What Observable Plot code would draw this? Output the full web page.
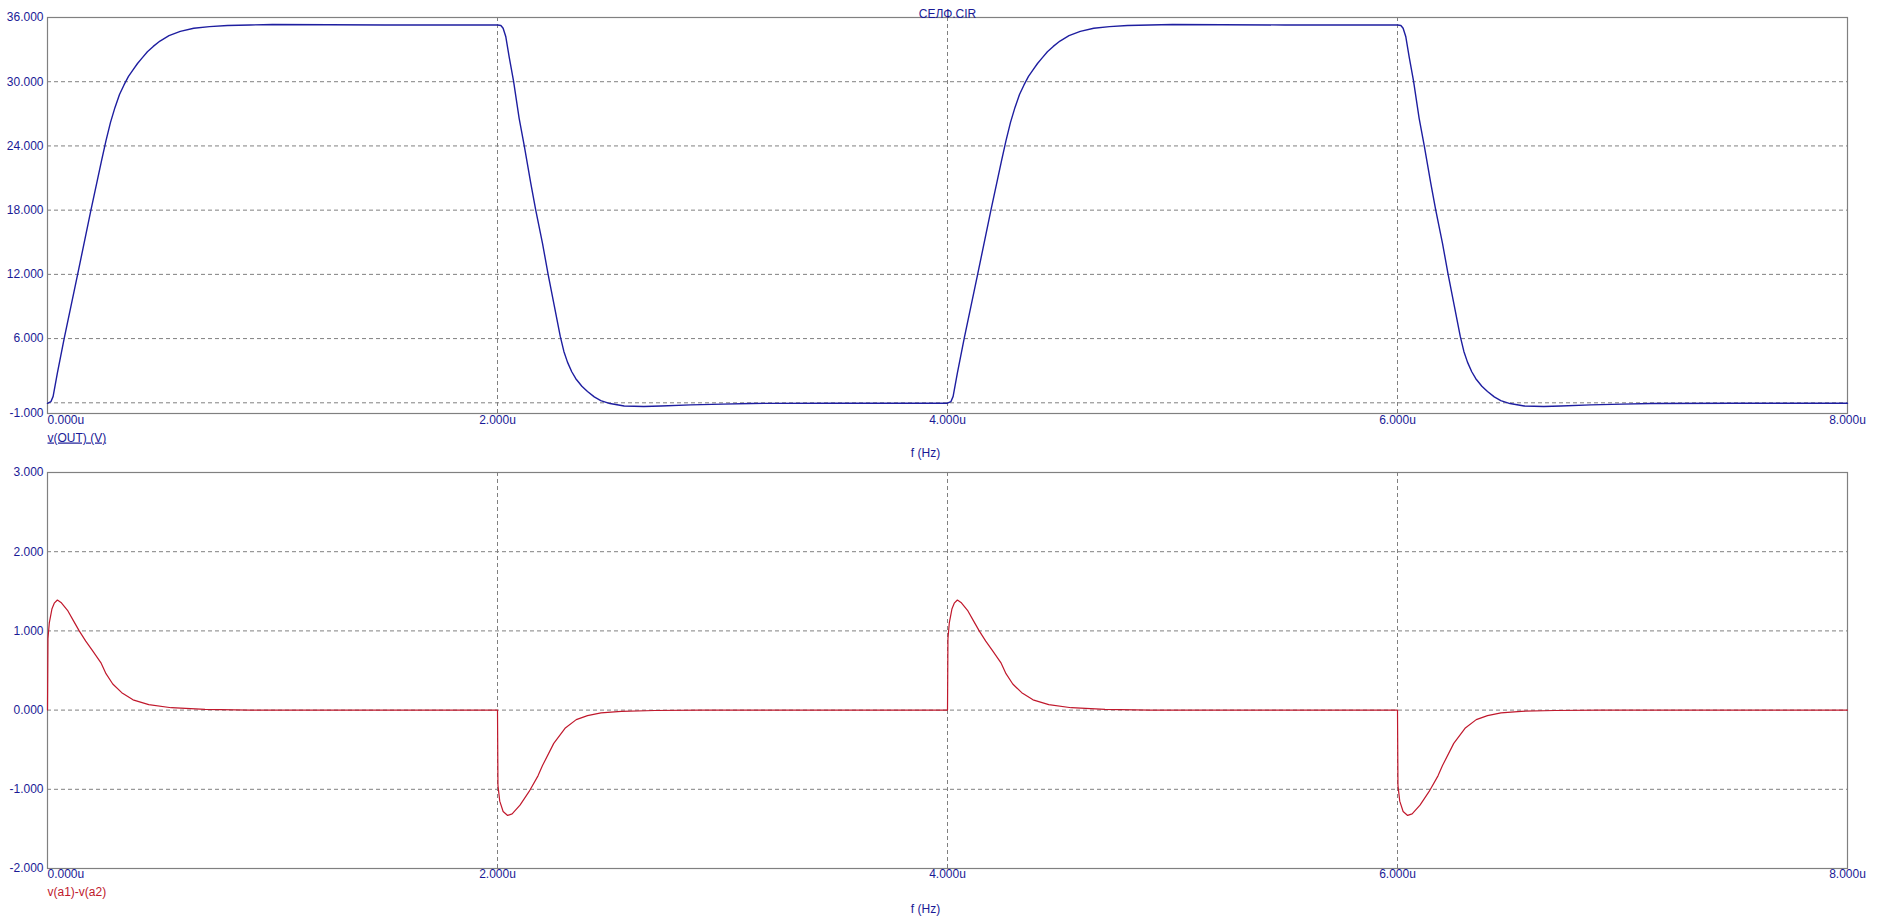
<!DOCTYPE html>
<html>
<head>
<meta charset="utf-8">
<script src="https://cdn.jsdelivr.net/npm/d3@7"></script>
<script src="https://cdn.jsdelivr.net/npm/@observablehq/plot@0.6"></script>
<style>
  html, body { margin: 0; padding: 0; background: #fff; }
  #chart svg { display: block; }
</style>
</head>
<body>
<div id="chart"></div>
<script>
// ---- Data (time in microseconds) ----
const title = "СЕЛФ.CIR";
const xTicks = [0, 2, 4, 6, 8];
const xGrid = [2, 4, 6];
const xLabel = "f (Hz)";

// Top panel: v(OUT) (V)
const outLabel = "v(OUT) (V)";
const outYTicks = [36, 30, 24, 18, 12, 6, -1];
const outYGrid = [30, 24, 18, 12, 6, 0];
const outT = [
  0.000, 0.015, 0.025, 0.044, 0.074, 0.133, 0.193, 0.240, 0.260, 0.280, 0.300, 0.320, 0.340, 0.360, 0.380, 0.400, 0.420, 0.444, 0.470, 0.500, 0.540, 0.590, 0.650, 0.720, 0.800, 0.900, 1.000, 1.500,
  2.000, 2.015, 2.025, 2.037, 2.052, 2.071, 2.096, 2.119, 2.148, 2.170, 2.200, 2.225, 2.252, 2.279, 2.295, 2.311, 2.330, 2.348, 2.375, 2.400, 2.430, 2.459, 2.500, 2.563, 2.650, 2.726, 2.859, 3.000, 3.126, 3.500,
  4.000, 4.015, 4.025, 4.044, 4.074, 4.133, 4.193, 4.240, 4.260, 4.280, 4.300, 4.320, 4.340, 4.360, 4.380, 4.400, 4.420, 4.444, 4.470, 4.500, 4.540, 4.590, 4.650, 4.720, 4.800, 4.900, 5.000, 5.500,
  6.000, 6.015, 6.025, 6.037, 6.052, 6.071, 6.096, 6.119, 6.148, 6.170, 6.200, 6.225, 6.252, 6.279, 6.295, 6.311, 6.330, 6.348, 6.375, 6.400, 6.430, 6.459, 6.500, 6.563, 6.650, 6.726, 6.859, 7.000, 7.126, 7.500, 8.000
];
const outV = [
  -0.05, 0.1, 0.6, 2.8, 6.0, 11.9, 18.0, 22.6, 24.5, 26.2, 27.6, 28.8, 29.7, 30.5, 31.1, 31.7, 32.2, 32.8, 33.3, 33.8, 34.3, 34.7, 35.0, 35.15, 35.25, 35.3, 35.35, 35.3,
  35.3, 35.25, 35.0, 34.2, 32.3, 30.1, 26.6, 24.0, 20.5, 18.0, 14.9, 12.0, 9.1, 6.2, 4.8, 3.8, 2.9, 2.25, 1.55, 1.05, 0.55, 0.2, -0.07, -0.3, -0.35, -0.3, -0.19, -0.12, -0.06, -0.04,
  -0.04, 0.1, 0.6, 2.8, 6.0, 11.9, 18.0, 22.6, 24.5, 26.2, 27.6, 28.8, 29.7, 30.5, 31.1, 31.7, 32.2, 32.8, 33.3, 33.8, 34.3, 34.7, 35.0, 35.15, 35.25, 35.3, 35.35, 35.3,
  35.3, 35.25, 35.0, 34.2, 32.3, 30.1, 26.6, 24.0, 20.5, 18.0, 14.9, 12.0, 9.1, 6.2, 4.8, 3.8, 2.9, 2.25, 1.55, 1.05, 0.55, 0.2, -0.07, -0.3, -0.35, -0.3, -0.19, -0.12, -0.06, -0.04, -0.04
];

// Bottom panel: v(a1)-v(a2)
const diffLabel = "v(a1)-v(a2)";
const diffYTicks = [3, 2, 1, 0, -1, -2];
const diffYGrid = [2, 1, 0, -1];
const diffT = [
  0.000, 0.002, 0.008, 0.020, 0.030, 0.044, 0.060, 0.089, 0.115, 0.141, 0.170, 0.200, 0.237, 0.260, 0.290, 0.330, 0.380, 0.450, 0.550, 0.700, 0.900,
  2.000, 2.002, 2.010, 2.025, 2.045, 2.065, 2.100, 2.140, 2.180, 2.200, 2.250, 2.300, 2.350, 2.400, 2.460, 2.550, 2.700, 2.900,
  4.000, 4.002, 4.008, 4.020, 4.030, 4.044, 4.060, 4.089, 4.115, 4.141, 4.170, 4.200, 4.237, 4.260, 4.290, 4.330, 4.380, 4.450, 4.550, 4.700, 4.900,
  6.000, 6.002, 6.010, 6.025, 6.045, 6.065, 6.100, 6.140, 6.180, 6.200, 6.250, 6.300, 6.350, 6.400, 6.460, 6.550, 6.700, 6.900, 8.000
];
const diffV = [
  0, 0.9, 1.1, 1.28, 1.35, 1.39, 1.36, 1.26, 1.13, 1.0, 0.87, 0.75, 0.6, 0.46, 0.33, 0.22, 0.13, 0.07, 0.03, 0.01, 0,
  0, -0.95, -1.15, -1.28, -1.33, -1.31, -1.2, -1.03, -0.83, -0.7, -0.42, -0.23, -0.12, -0.07, -0.035, -0.015, -0.005, 0,
  0, 0.9, 1.1, 1.28, 1.35, 1.39, 1.36, 1.26, 1.13, 1.0, 0.87, 0.75, 0.6, 0.46, 0.33, 0.22, 0.13, 0.07, 0.03, 0.01, 0,
  0, -0.95, -1.15, -1.28, -1.33, -1.31, -1.2, -1.03, -0.83, -0.7, -0.42, -0.23, -0.12, -0.07, -0.035, -0.015, -0.005, 0, 0
];

// ---- Styling ----
const textColor = "#1a1a96";
const gridColor = "#808080";
const blue = "#1e1ea0";
const red = "#c0182c";
const fmt3 = d => d.toFixed(3);
const fmtX = d => d.toFixed(3) + "u";

function panel({height, marginTop, marginBottom, yDomain, yTicks, yGrid, t, v, lineColor, lineWidth, label, labelColor, titleText, dyTick, dyLabel, dyX}) {
  const data = t.map((x, i) => ({x, y: v[i]}));
  const marks = [
    Plot.ruleY(yGrid, {y: d => d, stroke: gridColor, strokeDasharray: "4,3", strokeWidth: 1}),
    Plot.ruleX(xGrid, {x: d => d, stroke: gridColor, strokeDasharray: "4,3", strokeWidth: 1}),
    Plot.frame({stroke: gridColor, strokeWidth: 1.2}),
    Plot.line(data, {x: "x", y: "y", stroke: lineColor, strokeWidth: lineWidth}),
    Plot.text(yTicks, {y: d => d, frameAnchor: "left", dx: -4, textAnchor: "end", text: fmt3, fill: textColor}),
    Plot.text(xTicks.slice(0, 1), {x: d => d, frameAnchor: "bottom", dy: dyTick, textAnchor: "start", text: fmtX, fill: textColor}),
    Plot.text(xTicks.slice(1), {x: d => d, frameAnchor: "bottom", dy: dyTick, text: fmtX, fill: textColor}),
    Plot.text([label], {frameAnchor: "bottom-left", dy: dyLabel, textAnchor: "start", text: d => d, fill: labelColor}),
    Plot.text([xLabel], {frameAnchor: "bottom", dx: -22, dy: dyX, text: d => d, fill: textColor})
  ];
  if (titleText) marks.push(Plot.text([titleText], {frameAnchor: "top", dy: -8, text: d => d, fill: textColor}));
  return Plot.plot({
    width: 1882,
    height,
    marginTop,
    marginBottom,
    marginLeft: 47,
    marginRight: 35,
    x: {domain: [0, 8], axis: null},
    y: {domain: yDomain, axis: null},
    style: {fontFamily: "'Liberation Sans', Arial, sans-serif", fontSize: "12px", background: "#fff", overflow: "visible"},
    marks
  });
}

const topPlot = panel({
  height: 462, marginTop: 17, marginBottom: 49,
  yDomain: [-1, 36], yTicks: outYTicks, yGrid: outYGrid,
  t: outT, v: outV, lineColor: blue, lineWidth: 1.4,
  label: outLabel, labelColor: textColor, titleText: title,
  dyTick: 10, dyLabel: 28, dyX: 43
});
const bottomPlot = panel({
  height: 461, marginTop: 10, marginBottom: 55,
  yDomain: [-2, 3], yTicks: diffYTicks, yGrid: diffYGrid,
  t: diffT, v: diffV, lineColor: red, lineWidth: 1.2,
  label: diffLabel, labelColor: red, titleText: null,
  dyTick: 9.5, dyLabel: 27, dyX: 44
});

const chart = document.getElementById("chart");
chart.appendChild(topPlot);
chart.appendChild(bottomPlot);

d3.select(topPlot).selectAll("text").filter(function() { return this.textContent === outLabel; })
  .attr("text-decoration", "underline");
</script>
</body>
</html>
